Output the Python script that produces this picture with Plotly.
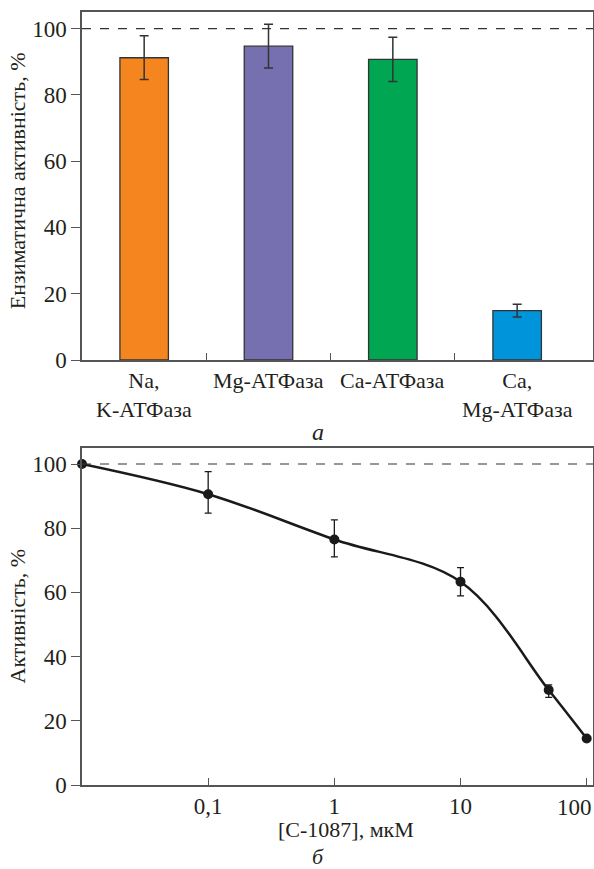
import plotly.graph_objects as go

# ---------- data: panel a ----------
enzymes = ["Na,<br>K-АТФаза", "Mg-АТФаза", "Ca-АТФаза", "Ca,<br>Mg-АТФаза"]
activity_a = [91.2, 94.7, 90.7, 14.9]
err_a = [6.6, 6.6, 6.7, 1.9]
bar_colors = ["#F5861F", "#7670B0", "#00A651", "#0095DA"]

# ---------- data: panel b ----------
conc = [0.01, 0.1, 1, 10, 50, 100]
activity_b = [100, 90.6, 76.5, 63.3, 29.6, 14.5]
err_b_plus = [0, 7.0, 6.1, 4.4, 1.6, 0]
err_b_minus = [0, 5.9, 5.4, 4.4, 2.3, 0]
xticks_b = [0.1, 1, 10, 100]
xticklabels_b = ["0,1", "1", "10", "100"]
yticks = [0, 20, 40, 60, 80, 100]
CONTROL = 100

FONT = "Liberation Serif"
TXT = "#231f20"
AX = "#555555"

fig = go.Figure()

pos = list(range(len(enzymes)))
fig.add_trace(go.Bar(
    x=pos, y=activity_a, width=0.39,
    marker=dict(color=bar_colors, line=dict(color="#333333", width=1.3)),
    error_y=dict(type="data", array=err_a, color="#333333", thickness=1.5, width=4.5),
    xaxis="x", yaxis="y", showlegend=False,
))

fig.add_trace(go.Scatter(
    x=conc, y=activity_b, mode="lines+markers",
    line=dict(color="#1a1a1a", width=2.5, shape="spline", smoothing=1.0),
    marker=dict(color="#1a1a1a", size=10),
    error_y=dict(type="data", array=err_b_plus, arrayminus=err_b_minus,
                 color="#1a1a1a", thickness=1.3, width=3.5),
    xaxis="x2", yaxis="y2", showlegend=False, cliponaxis=False,
))

axis_common = dict(showline=True, linecolor=AX, linewidth=1.5, mirror=True,
                   showgrid=False, zeroline=False, automargin=False,
                   tickfont=dict(family=FONT, size=23, color=TXT))

# the last tick label sits at the very right edge: draw it as a right-anchored label
shown_ticktext = xticklabels_b[:-1] + [""]

fig.update_layout(
    width=594, height=869,
    margin=dict(l=82, r=1, t=12, b=84),
    paper_bgcolor="white", plot_bgcolor="white",
    xaxis=dict(**axis_common, range=[-0.5, 3.61], tickvals=[0.5, 1.5, 2.5],
               showticklabels=False, ticks="inside", ticklen=7, tickcolor=AX,
               tickwidth=1.3, anchor="y"),
    yaxis=dict(**axis_common, range=[0, 105], domain=[0.5498, 1.0],
               tickvals=yticks, ticks="outside", ticklen=9, tickcolor=AX,
               tickwidth=1.3, anchor="x"),
    xaxis2=dict(**axis_common, type="log", range=[-2, 2.05], tickvals=xticks_b,
                ticktext=shown_ticktext, ticks="inside", ticklen=7, tickcolor=AX,
                tickwidth=1.3, anchor="y2"),
    yaxis2=dict(**axis_common, range=[0, 105], domain=[0.0, 0.436],
                tickvals=yticks, ticks="outside", ticklen=9, tickcolor=AX,
                tickwidth=1.3, anchor="x2"),
)

fig.add_annotation(x=1, y=0, xref="paper", yref="y2 domain", text=xticklabels_b[-1],
                   showarrow=False, xanchor="right", yanchor="top", yshift=-8, xshift=1,
                   font=dict(family=FONT, size=23, color=TXT))

# control (100 %) reference lines
fig.add_shape(type="line", xref="x domain", yref="y", x0=0, x1=1, y0=CONTROL, y1=CONTROL,
              line=dict(color="#333333", width=1.2, dash="dash"))
fig.add_shape(type="line", xref="x2 domain", yref="y2", x0=0, x1=1, y0=CONTROL, y1=CONTROL,
              line=dict(color="#333333", width=1.2, dash="dash"))

# category labels for panel a
for i, name in enumerate(enzymes):
    fig.add_annotation(x=i, y=0, xref="x", yref="y domain", text=name, showarrow=False,
                       yanchor="top", yshift=-6,
                       font=dict(family=FONT, size=22, color=TXT))

# axis titles
fig.add_annotation(x=0, y=0.514, xref="paper", yref="y domain", xshift=-65,
                   text="Ензиматична активність, %", textangle=-90, showarrow=False,
                   xanchor="center", yanchor="middle",
                   font=dict(family=FONT, size=22, color=TXT))
fig.add_annotation(x=0, y=0.5, xref="paper", yref="y2 domain", xshift=-65,
                   text="Активність, %", textangle=-90, showarrow=False,
                   xanchor="center", yanchor="middle",
                   font=dict(family=FONT, size=22, color=TXT))
fig.add_annotation(x=0.517, y=-0.0582, xref="paper", yref="paper",
                   text="[С-1087], мкМ", showarrow=False,
                   xanchor="center", yanchor="middle",
                   font=dict(family=FONT, size=22, color=TXT))

# panel letters
fig.add_annotation(x=0.462, y=0.4567, xref="paper", yref="paper", text="<i>а</i>",
                   showarrow=False, xanchor="center", yanchor="middle",
                   font=dict(family=FONT, size=24, color=TXT))
fig.add_annotation(x=0.462, y=-0.0925, xref="paper", yref="paper", text="<i>б</i>",
                   showarrow=False, xanchor="center", yanchor="middle",
                   font=dict(family=FONT, size=22, color=TXT))

fig.write_html(
    "out.html",
    config={"displayModeBar": False},
    post_script="document.body.style.margin='0';document.body.style.overflow='hidden';",
)
